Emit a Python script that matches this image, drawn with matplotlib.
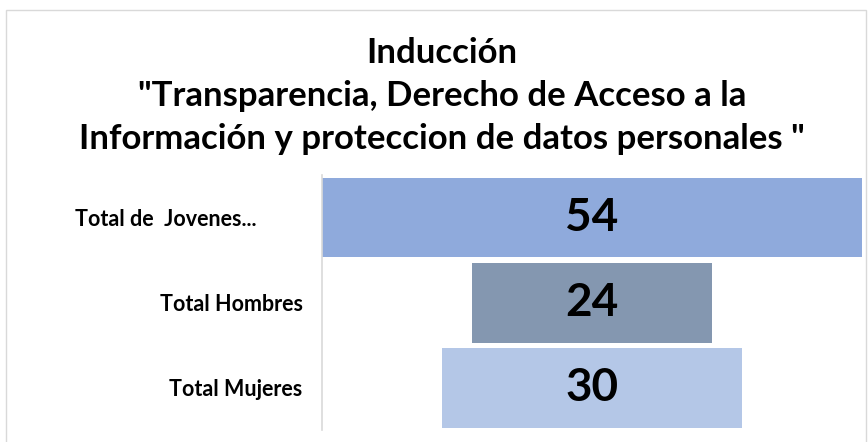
import matplotlib.pyplot as plt
from matplotlib.patches import Rectangle

# data
categorias = ['Total de  Jovenes...', 'Total Hombres', 'Total Mujeres']
valores = [54, 24, 30]
colores = ['#8FAADC', '#8497B0', '#B4C7E7']

titulo = 'Inducción\n"Transparencia, Derecho de Acceso a la\nInformación y proteccion de datos personales "'

plt.rcParams['font.family'] = ['Lato', 'DejaVu Sans']

fig = plt.figure(figsize=(8.68, 4.42), dpi=100)
ax = fig.add_axes([0.371, 0.027, 0.622, 0.577])

# funnel: bars centred on the widest one
maximo = max(valores)
izq = [(maximo - v) / 2 for v in valores]
pos = list(range(len(valores)))
ax.barh(pos, valores, left=izq, height=0.94, color=colores)

for p, v, l in zip(pos, valores, izq):
    ax.text(l + v / 2, p, str(v), ha='center', va='center',
            fontsize=33, fontweight='bold', color='black')

ax.set_xlim(0, maximo)
ax.set_ylim(len(valores) - 0.5, -0.5)
ax.set_xticks([])
ax.set_yticks(pos, categorias, fontsize=15.5, fontweight='bold')
ax.tick_params(axis='y', length=0, pad=14)
ax.yaxis.get_major_ticks()[0].set_pad(47)

for s in ['top', 'right', 'bottom']:
    ax.spines[s].set_visible(False)
ax.spines['left'].set_color('#D9D9D9')
ax.spines['left'].set_linewidth(1.2)

fig.text(0.509, 0.783, titulo, ha='center', va='center', fontsize=25,
         fontweight='bold', linespacing=1.42)

# chart border
fig.patches.append(Rectangle((0.007, -0.01), 0.991, 0.988, transform=fig.transFigure,
                             fill=False, edgecolor='#D9D9D9', linewidth=1))

fig.savefig('out.png', dpi=100)
